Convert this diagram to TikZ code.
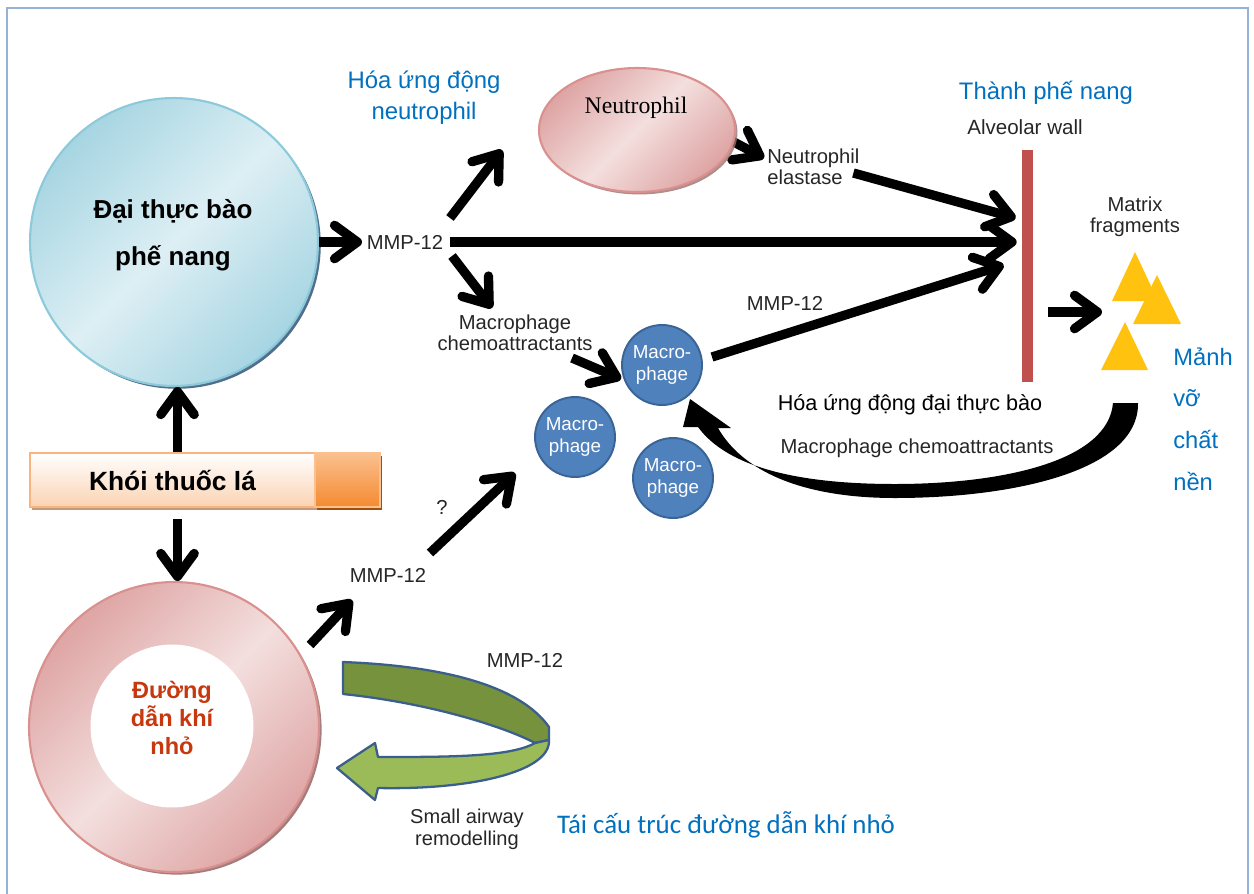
\documentclass[tikz,border=0pt]{standalone}
\usepackage{fontspec}
\setmainfont{Liberation Sans}
\newfontfamily\serifface{Liberation Serif}
\newfontfamily\calibface{Carlito}
\usetikzlibrary{arrows.meta,shapes.geometric,shadows,calc}

\definecolor{frameblue}{HTML}{95B3D7}
\definecolor{vnblue}{HTML}{0070C0}
\definecolor{txtgray}{HTML}{262626}
\definecolor{airred}{HTML}{C8380E}
\definecolor{alvedge}{HTML}{8CCADB}
\definecolor{alvdark}{HTML}{A6D5E2}
\definecolor{alvlight}{HTML}{DDEFF4}
\definecolor{alvshadow}{HTML}{3E5F80}
\definecolor{pinkedge}{HTML}{D9908E}
\definecolor{pinkdark}{HTML}{DEA5A4}
\definecolor{pinklight}{HTML}{F3DFDE}
\definecolor{pinkshadow}{HTML}{9A7070}
\definecolor{smokeedge}{HTML}{F9B47E}
\definecolor{smokefill}{HTML}{FBD3B2}
\definecolor{smokeshadow}{HTML}{C49A7A}
\definecolor{tiptop}{HTML}{FAC08F}
\definecolor{tipbottom}{HTML}{F58A30}
\definecolor{tipshadow}{HTML}{A44E0C}
\definecolor{wallred}{HTML}{C0504D}
\definecolor{fragyellow}{HTML}{FFC20E}
\definecolor{macfill}{HTML}{4F81BD}
\definecolor{macedge}{HTML}{3A6496}
\definecolor{greendark}{HTML}{76923C}
\definecolor{greenlight}{HTML}{9BBB59}
\definecolor{greenedge}{HTML}{3B5F8A}

\newcommand{\fsz}[2]{\fontsize{#1}{#2}\selectfont}

\begin{document}
\begin{tikzpicture}[x=0.02cm,y=-0.02cm,
  lbl/.style={font=\fsz{11.5}{12}, text=txtgray, inner sep=0pt, align=center},
  bluelbl/.style={font=\fsz{13.6}{17.8}, text=vnblue, inner sep=0pt, align=center},
  arr/.style={line width=5.3pt, -{Straight Barb[length=13pt,width=19pt,round]}},
  mac/.style={circle, minimum size=1.6cm, inner sep=0pt, fill=macfill, draw=macedge,
    line width=1.1pt, text=white, font=\fsz{10.7}{12}, align=center},
  tri/.style={fill=fragyellow}
]
\useasboundingbox (0,0) rectangle (1254,893);

% outer frame (open at the bottom)
\draw[frameblue, line width=0.9pt] (7,900) -- (7,8) -- (1248,8) -- (1248,900);

% ---- alveolar macrophage ----
\node[circle, minimum size=5.76cm, inner sep=0pt, draw=alvedge, line width=1.2pt,
  top color=alvdark, bottom color=alvdark, middle color=alvlight, shading angle=45,
  drop shadow={shadow xshift=1.6pt, shadow yshift=-1.6pt, fill=alvshadow, opacity=0.9}]
  (circ1) at (174,242) {};
\node[font=\bfseries\fsz{14.8}{26.7}, align=center, inner sep=0pt] (circ1txt) at (173,235)
  {Đại thực bào\\phế nang};

% ---- cigarette smoke ----
\node[rectangle, minimum width=5.7cm, minimum height=1.08cm, inner sep=0pt,
  draw=smokeedge, line width=1pt, top color=white, bottom color=smokefill,
  drop shadow={shadow xshift=1.4pt, shadow yshift=-1.8pt, fill=smokeshadow, opacity=1},
  font=\bfseries\fsz{15}{18}] (smoke) at (172.5,480) {Khói thuốc lá};
\node[rectangle, minimum width=1.3cm, minimum height=1.08cm, inner sep=0pt,
  draw=tiptop, line width=1pt, top color=tiptop, bottom color=tipbottom,
  drop shadow={shadow xshift=1.4pt, shadow yshift=-1.8pt, fill=tipshadow, opacity=1}]
  (filter) at (347.5,480) {};

% ---- small airway ----
\node[circle, minimum size=5.8cm, inner sep=0pt, draw=pinkedge, line width=1.2pt,
  top color=pinkdark, bottom color=pinkdark, middle color=pinklight, shading angle=45,
  drop shadow={shadow xshift=1.5pt, shadow yshift=-1.5pt, fill=pinkshadow, opacity=0.9}]
  (circ2) at (174,727) {};
\node[circle, fill=white, minimum size=3.26cm, inner sep=0pt] (lumen) at (172,726) {};
\node[font=\bfseries\fsz{13.4}{15.8}, text=airred, align=center, inner sep=0pt]
  (circ2txt) at (172,718) {Đường\\dẫn khí\\nhỏ};

% ---- neutrophil ----
\node[lbl] (elast) [anchor=west, align=left] at (767,167) {Neutrophil\\elastase};
\draw[arr] ($(637,130)+(93,10)$) -- ($(elast.west)+(-3,-9)$);
\node[ellipse, minimum width=3.92cm, minimum height=2.48cm, inner sep=0pt,
  draw=pinkedge, line width=1.2pt, top color=pinkdark, bottom color=pinkdark,
  middle color=pinklight, shading angle=45,
  drop shadow={shadow xshift=1.4pt, shadow yshift=-1.4pt, fill=pinkshadow, opacity=0.8}]
  (neut) at (637,130) {};
\node[font=\serifface\fsz{13.5}{15}, inner sep=0pt] (neuttxt) at ($(neut)+(-1,-22)$) {Neutrophil};

% ---- alveolar wall and fragments ----
\node[rectangle, fill=wallred, minimum width=0.22cm, minimum height=4.64cm, inner sep=0pt]
  (wall) at (1027.5,266) {};
\node[lbl, font=\fsz{11.7}{12}] (walltxt) at (1025,127) {Alveolar wall};
\node[bluelbl] (wallvn) at (1046,93) {Thành phế nang};
\coordinate (frag) at (1140,311);
\fill[tri] ($(frag)+(-5,-59)$) -- ($(frag)+(18,-10)$) -- ($(frag)+(-28,-10)$) -- cycle;
\fill[tri] ($(frag)+(17,-36)$) -- ($(frag)+(41,13)$) -- ($(frag)+(-7,13)$) -- cycle;
\fill[tri] ($(frag)+(-15,11)$) -- ($(frag)+(8,59)$) -- ($(frag)+(-39,59)$) -- cycle;
\node[lbl] (fragtxt) at (1135,217) {Matrix\\fragments};
\node[bluelbl, font=\fsz{13.5}{23.7}, align=left, anchor=west] (fragvn) at (1173,419)
  {Mảnh\\vỡ\\chất\\nền};

% ---- labels ----
\node[lbl] (mmpA) at (405,242) {MMP-12};
\node[bluelbl] (neutvn) at (424,98) {Hóa ứng động\\neutrophil};
\node[lbl] (mchem) at (515,333) {Macrophage\\chemoattractants};
\node[lbl] (mmpC) at (785,303) {MMP-12};
\node[lbl, font=\fsz{12.3}{14}, text=black] (macvn) at (910,405) {Hóa ứng động đại thực bào};
\node[lbl] (mchem2) at (917,448) {Macrophage chemoattractants};
\node[lbl] (qmark) at (442,507) {?};
\node[lbl] (mmpB) at (388,575) {MMP-12};
\node[lbl] (mmpD) at (525,660) {MMP-12};
\node[lbl, font=\fsz{11.4}{12.5}] (remod) at (467,829) {Small airway\\remodelling};
\node[font=\calibface\fsz{15.3}{18}, text=vnblue, inner sep=0pt] (remodvn) at (726,825)
  {Tái cấu trúc đường dẫn khí nhỏ};

% ---- macrophages ----
\node[mac] (M1) at (662,365) {Macro-\\phage};
\node[mac] (M2) at (575,437) {Macro-\\phage};
\node[mac] (M3) at (673,478) {Macro-\\phage};

% ---- connectors ----
\draw[arr] (circ1.east) -- ($(mmpA)+(-43,0)$);
\draw[arr] ($(mmpA)+(45,-24)$) -- ($(neut)+(-135,20)$);
\draw[arr] ($(mmpA)+(47,14)$) -- ($(mchem)+(-23,-25)$);
\draw[arr] ($(mmpA)+(45,0)$) -- ($(wall.west)+(-5,-24)$);
\draw[arr] ($(elast)+(40,6)$) -- ($(wall.west)+(-6,-48)$);
\draw[arr] ($(M1)+(50,-8)$) -- ($(wall.west)+(-18,-1)$);
\draw[arr] ($(mchem)+(57,25)$) -- ($(M1)+(-41,14)$);
\draw[arr] ($(wall.east)+(15,46)$) -- ($(frag)+(-38,1)$);
\draw[arr] ([xshift=2pt]circ1.south |- smoke.north) -- ([xshift=2pt]circ1.south);
\draw[arr] ($([xshift=2pt]circ2.north |- smoke.south)+(0,11)$) -- ([xshift=2pt]circ2.north);
\draw[arr] ($(circ2)+(136,-82)$) -- ($(mmpB)+(-36,25)$);
\draw[arr] ($(mmpB)+(42,-22)$) -- ($(M2)+(-60,36)$);

% chemoattractant feedback from the fragments to the macrophage
\fill[black] (1113,403) -- (1138,403)
  .. controls (1139,472) and (1010,498) .. (895,498)
  .. controls (800,498) and (742,470) .. (718,428)
  -- (731,428) -- (690,399) -- (683,427) -- (698,427)
  .. controls (728,468) and (800,484) .. (895,484)
  .. controls (1000,484) and (1108,462) .. (1113,403) -- cycle;

% small airway remodelling loop
\begin{scope}[draw=greenedge, line width=1.3pt, line join=round]
\filldraw[fill=greendark] (343,662) .. controls (445,666) and (520,686) .. (549,727)
  -- (549,740) -- (535,743) .. controls (505,727) and (430,703) .. (343,694) -- cycle;
\filldraw[fill=greenlight] (549,740) .. controls (551,772) and (470,790) .. (378,788)
  -- (375,800) -- (337,768) -- (375,743) -- (378,757)
  .. controls (450,757) and (510,757) .. (535,743) -- cycle;
\end{scope}
\end{tikzpicture}
\end{document}
